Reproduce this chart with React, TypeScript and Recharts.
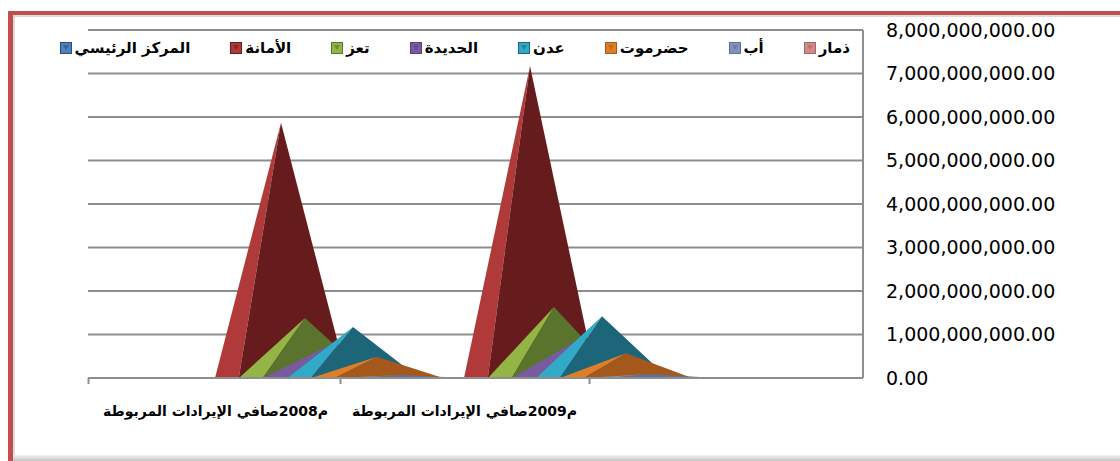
import { BarChart, Bar, XAxis, YAxis, CartesianGrid, Legend } from "recharts";

// categories (x axis)
const categories = ["م2008صافي الإيرادات المربوطة", "م2009صافي الإيرادات المربوطة"];

// series, in depth order (back/left first)
const seriesNames = ["المركز الرئيسي", "الأمانة", "تعز", "الحديدة", "عدن", "حضرموت", "أب", "ذمار"];
const markaz = [0, 0];
const amana = [5870000000, 7170000000];
const taiz = [1380000000, 1630000000];
const hodeidah = [750000000, 880000000];
const aden = [1170000000, 1420000000];
const hadramout = [490000000, 570000000];
const ibb = [70000000, 90000000];
const dhamar = [20000000, 30000000];

const yTicks = [0, 1000000000, 2000000000, 3000000000, 4000000000, 5000000000, 6000000000, 7000000000, 8000000000];

const seriesValues = [markaz, amana, taiz, hodeidah, aden, hadramout, ibb, dhamar];

const LIGHT = ["#4f81bd", "#b03a3a", "#92b545", "#7a5a9e", "#33a9c8", "#e07d27", "#7f93ba", "#d08a8a"];
const DARK = ["#2c4d75", "#661c1c", "#5a742d", "#5b4479", "#1d6579", "#a5581b", "#5d7099", "#a86464"];

const data = categories.map((name, i) => {
  const row: Record<string, number | string> = { name };
  seriesValues.forEach((vals, s) => {
    row["s" + s] = vals[i];
  });
  return row;
});

const FONT = "'DejaVu Sans', sans-serif";
const GRID = "#8e8e8e";
const HALF = 66;

function Pyramid(props: any) {
  const { x, y, width, height, light, dark } = props;
  if (!height || height <= 0) return null;
  const cx = x + width / 2;
  const base = y + height;
  const split = cx - HALF + HALF * 2 * 0.18;
  return (
    <g>
      <polygon points={`${cx - HALF},${base} ${cx},${y} ${split},${base}`} fill={light} />
      <polygon points={`${split},${base} ${cx},${y} ${cx + HALF},${base}`} fill={dark} />
    </g>
  );
}

function CategoryTick(props: any) {
  const { x, y, payload, index } = props;
  return (
    <g>
      <line x1={x} y1={y} x2={x} y2={y + 6} stroke={GRID} strokeWidth={2} />
      {index === 0 && <line x1={x - 252} y1={y} x2={x - 252} y2={y + 6} stroke={GRID} strokeWidth={2} />}
      <text x={x - 125} y={y + 38} textAnchor="middle" fontFamily={FONT} fontWeight="bold" fontSize={14} fill="#000">
        {payload.value}
      </text>
    </g>
  );
}

function LegendContent() {
  return (
    <div
      style={{
        display: "flex",
        direction: "rtl",
        gap: 40,
        fontFamily: FONT,
        fontWeight: "bold",
        fontSize: 15,
        lineHeight: "20px",
        color: "#000",
        whiteSpace: "nowrap",
      }}
    >
      {seriesNames
        .map((n, i) => ({ n, i }))
        .reverse()
        .map(({ n, i }) => (
          <div key={n} style={{ display: "flex", alignItems: "center", gap: 3 }}>
            <span>{n}</span>
            <svg width={12} height={12}>
              <rect x={0.5} y={0.5} width={11} height={11} fill={LIGHT[i]} stroke={DARK[i]} />
              <polygon points="3,3 9,3 6,8" fill={DARK[i]} opacity={0.6} />
            </svg>
          </div>
        ))}
    </div>
  );
}

const fmt = (v: number) => v.toLocaleString("en-US", { minimumFractionDigits: 2, maximumFractionDigits: 2 });

export default function App() {
  return (
    <div style={{ position: "fixed", left: 0, top: 0, width: 1120, height: 461, background: "#fff", overflow: "hidden" }}>
      <div
        style={{
          position: "absolute",
          left: 8,
          top: 11,
          width: 1200,
          height: 460,
          borderLeft: "5px solid #c0504d",
          borderTop: "4px solid #c0504d",
          boxShadow: "inset 2px 2px 0 #dcdcdc",
        }}
      />
      <div
        style={{
          position: "absolute",
          left: 13,
          top: 455,
          width: 1120,
          height: 6,
          background: "linear-gradient(#f2f2f2, #c4c4c4)",
        }}
      />
      <div style={{ position: "absolute", left: 0, top: 0 }}>
        <BarChart
          width={1120}
          height={461}
          data={data}
          margin={{ top: 30, right: 0, bottom: 43, left: 88 }}
          barSize={24}
          barGap={0}
        >
          <CartesianGrid vertical={false} stroke={GRID} strokeWidth={2} />
          <XAxis
            dataKey="name"
            height={40}
            padding={{ left: 128, right: 149 }}
            axisLine={{ stroke: GRID, strokeWidth: 2 }}
            tickLine={false}
            tickSize={0}
            tickMargin={0}
            interval={0}
            tick={<CategoryTick />}
          />
          <YAxis
            orientation="right"
            width={257}
            domain={[0, 8000000000]}
            ticks={yTicks}
            axisLine={{ stroke: GRID, strokeWidth: 2 }}
            tickLine={false}
            tickSize={0}
            tickMargin={23}
            tick={{ fill: "#000", fontSize: 19, fontFamily: FONT, textAnchor: "start" }}
            tickFormatter={fmt}
          />
          <Legend
            layout="horizontal"
            verticalAlign="middle"
            align="center"
            content={<LegendContent />}
            wrapperStyle={{ position: "absolute", top: 38, left: 0, width: 850, height: 20 }}
          />
          {seriesNames.map((n, i) => (
            <Bar
              key={n}
              dataKey={"s" + i}
              name={n}
              fill={DARK[i]}
              isAnimationActive={false}
              shape={(p: any) => <Pyramid {...p} light={LIGHT[i]} dark={DARK[i]} />}
            />
          ))}
        </BarChart>
      </div>
    </div>
  );
}
